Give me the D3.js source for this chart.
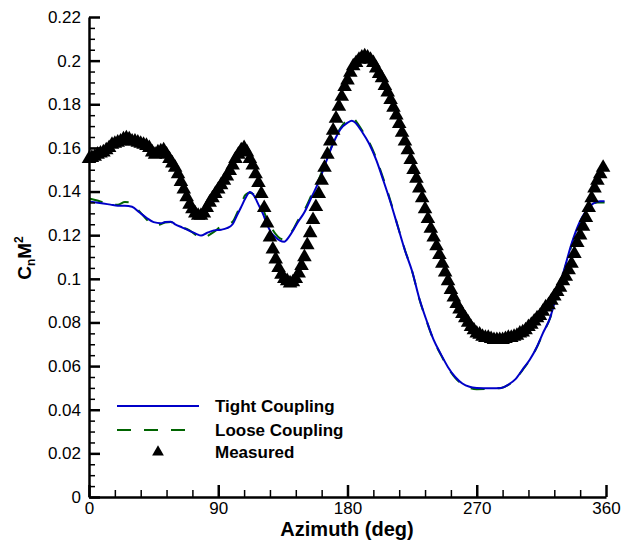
<!DOCTYPE html>
<html><head><meta charset="utf-8">
<script src="https://cdn.jsdelivr.net/npm/d3@7"></script>
<style>
body{margin:0;background:#fff}
text{font-family:"Liberation Sans",Arial,Helvetica,sans-serif;fill:#000}
</style>
</head><body>
<svg id="chart" width="624" height="546"></svg>
<script>
// ---------- data ----------
const tightAz  = [0,5,10,15,20,25,30,35,40,45,50,53,57,60,65,70,75,78,82,87,92,96,100,103,106,109,112,115,118,121,124,127,130,133,136,139,142,145,150,155,160,165,170,175,180,183,186,190,195,200,205,210,215,220,225,230,235,240,245,250,255,260,265,270,280,287,292,297,302,307,312,316,321,326,331,336,341,346,351,356,359];
const tightVal = [0.1355,0.1350,0.1345,0.1340,0.1335,0.1335,0.1330,0.1305,0.1280,0.1260,0.1255,0.1260,0.1262,0.1250,0.1235,0.1220,0.1205,0.1198,0.1210,0.1222,0.1225,0.1232,0.1250,0.1290,0.1330,0.1370,0.1398,0.1380,0.1340,0.1300,0.1250,0.1210,0.1190,0.1175,0.1170,0.1190,0.1220,0.1255,0.1305,0.1375,0.1445,0.1535,0.1620,0.1685,0.1715,0.1725,0.1712,0.1675,0.1620,0.1545,0.1450,0.1350,0.1240,0.1130,0.1035,0.0910,0.0810,0.0720,0.0655,0.0595,0.0550,0.0520,0.0505,0.0500,0.0498,0.0500,0.0515,0.0540,0.0585,0.0630,0.0690,0.0750,0.0820,0.0935,0.1045,0.1160,0.1250,0.1310,0.1345,0.1355,0.1355];

const looseAz  = [0,5,10,15,20,25,29,33,37,41,45,50,53,57,60,65,70,75,78,82,87,92,96,100,103,106,109,112,115,118,121,124,127,130,133,136,139,142,145,150,155,160,165,170,175,180,183,186,190,195,200,205,210,215,220,225,230,235,240,245,250,255,260,265,270,280,287,292,297,302,307,312,316,321,326,331,336,341,346,350,354,359];
const looseVal = [0.1368,0.1360,0.1350,0.1340,0.1340,0.1352,0.1350,0.1325,0.1295,0.1266,0.1246,0.1250,0.1258,0.1260,0.1248,0.1236,0.1222,0.1198,0.1186,0.1195,0.1215,0.1240,0.1250,0.1262,0.1300,0.1345,0.1385,0.1395,0.1385,0.1358,0.1322,0.1272,0.1235,0.1205,0.1185,0.1180,0.1200,0.1225,0.1262,0.1315,0.1385,0.1455,0.1540,0.1625,0.1690,0.1728,0.1740,0.1722,0.1682,0.1628,0.1552,0.1458,0.1355,0.1242,0.1132,0.1035,0.0908,0.0808,0.0718,0.0652,0.0592,0.0546,0.0516,0.0500,0.0494,0.0496,0.0500,0.0514,0.0540,0.0583,0.0628,0.0688,0.0748,0.0818,0.0930,0.1040,0.1152,0.1245,0.1305,0.1340,0.1350,0.1350];

const measuredAz  = [0,2,4,6,8,10,12,14,16,18,20,22,24,26,28,30,32,34,36,38,40,42,44,46,48,50,52,54,56,58,60,62,64,66,68,70,72,74,76,78,80,82,84,86,88,90,92,94,96,98,100,102,104,106,108,110,112,114,116,118,120,122,124,126,128,130,132,134,136,138,140,142,144,146,148,150,152,154,156,158,160,162,164,166,168,170,172,174,176,178,180,182,184,186,188,190,192,194,196,198,200,202,204,206,208,210,212,214,216,218,220,222,224,226,228,230,232,234,236,238,240,242,244,246,248,250,252,254,256,258,260,262,264,266,268,270,272,274,276,278,280,282,284,286,288,290,292,294,296,298,300,302,304,306,308,310,312,314,316,318,320,322,324,326,328,330,332,334,336,338,340,342,344,346,348,350,352,354,356,358];
const measuredVal = [0.155,0.1555,0.156,0.157,0.1575,0.158,0.159,0.160,0.1615,0.162,0.1625,0.163,0.164,0.1645,0.164,0.163,0.163,0.1625,0.162,0.1615,0.161,0.160,0.158,0.157,0.158,0.1585,0.159,0.157,0.155,0.153,0.151,0.148,0.1445,0.141,0.1375,0.134,0.132,0.130,0.129,0.129,0.130,0.1325,0.135,0.137,0.139,0.141,0.143,0.145,0.147,0.1495,0.152,0.155,0.157,0.159,0.160,0.158,0.155,0.152,0.148,0.144,0.139,0.1325,0.1255,0.119,0.1135,0.109,0.105,0.102,0.100,0.099,0.098,0.0985,0.100,0.1025,0.106,0.110,0.1155,0.121,0.127,0.133,0.139,0.145,0.151,0.157,0.163,0.168,0.1735,0.179,0.1835,0.188,0.191,0.1945,0.1975,0.199,0.2005,0.2015,0.202,0.2015,0.2005,0.199,0.1965,0.194,0.192,0.1885,0.1855,0.182,0.1785,0.175,0.171,0.167,0.163,0.159,0.1545,0.150,0.146,0.1415,0.137,0.132,0.1275,0.123,0.119,0.115,0.111,0.107,0.103,0.099,0.095,0.0915,0.0885,0.086,0.084,0.082,0.080,0.078,0.0765,0.075,0.0745,0.0735,0.073,0.073,0.0725,0.072,0.072,0.072,0.072,0.0725,0.073,0.073,0.0735,0.074,0.075,0.0755,0.0765,0.078,0.079,0.0805,0.082,0.083,0.085,0.087,0.088,0.090,0.092,0.094,0.096,0.099,0.101,0.104,0.107,0.1115,0.1165,0.120,0.124,0.128,0.1325,0.137,0.1415,0.145,0.148,0.151];

const xTicks = [0,90,180,270,360];
const xMinorTicks = [18,36,54,72,108,126,144,162,198,216,234,252,288,306,324,342];
const yTicks = [0,0.02,0.04,0.06,0.08,0.1,0.12,0.14,0.16,0.18,0.2,0.22];
const yTickLabels = ["0","0.02","0.04","0.06","0.08","0.1","0.12","0.14","0.16","0.18","0.2","0.22"];
const yMinorTicks = [0.005,0.01,0.015,0.025,0.03,0.035,0.045,0.05,0.055,0.065,0.07,0.075,0.085,0.09,0.095,0.105,0.11,0.115,0.125,0.13,0.135,0.145,0.15,0.155,0.165,0.17,0.175,0.185,0.19,0.195,0.205,0.21,0.215];
const seriesNames = ["Tight Coupling","Loose Coupling","Measured"];
const xTitle = "Azimuth (deg)";

// ---------- layout ----------
const svg = d3.select("#chart");
const x = d3.scaleLinear().domain([0,360]).range([89,606]);
const y = d3.scaleLinear().domain([0,0.22]).range([497,17]);
const blue = "#0000c8", green = "#006400";

const line = d3.line().x(d => x(d[0])).y(d => y(d[1])).curve(d3.curveMonotoneX);
const tight = tightAz.map((a,i) => [a, tightVal[i]]);
const loose = looseAz.map((a,i) => [a, looseVal[i]]);
const meas = measuredAz.map((a,i) => [a, measuredVal[i]]);

svg.append("path").datum(loose).attr("d", line)
  .attr("fill","none").attr("stroke",green).attr("stroke-width",2).attr("stroke-dasharray","14,13");
svg.append("path").datum(tight).attr("d", line)
  .attr("fill","none").attr("stroke",blue).attr("stroke-width",2);

const tri = d3.symbol().type(d3.symbolTriangle).size(92);
svg.append("g").selectAll("path").data(meas).join("path")
  .attr("transform", d => `translate(${x(d[0])},${y(d[1])})`)
  .attr("d", tri).attr("fill","#000");

// ---------- axes ----------
const fs = 17;
const gxMinor = svg.append("g").attr("transform","translate(0,497)")
  .call(d3.axisBottom(x).tickValues(xMinorTicks).tickSize(-7).tickFormat(""));
gxMinor.select(".domain").remove();
gxMinor.selectAll("line").attr("stroke","#000").attr("stroke-width",1.5);

const gx = svg.append("g").attr("transform","translate(0,497)")
  .call(d3.axisBottom(x).tickValues(xTicks).tickSize(-12).tickSizeOuter(0).tickPadding(5).tickFormat(d3.format("d")));
gx.select(".domain").attr("stroke","#000").attr("stroke-width",2.5);
gx.selectAll("line").attr("stroke","#000").attr("stroke-width",2.5);
gx.selectAll("text").attr("font-size",fs).attr("font-family",'"Liberation Sans",Arial,sans-serif').attr("fill","#000");

const gyMinor = svg.append("g").attr("transform","translate(89,0)")
  .call(d3.axisLeft(y).tickValues(yMinorTicks).tickSize(-6).tickFormat(""));
gyMinor.select(".domain").remove();
gyMinor.selectAll("line").attr("stroke","#000").attr("stroke-width",1.5);

const gy = svg.append("g").attr("transform","translate(89,0)")
  .call(d3.axisLeft(y).tickValues(yTicks).tickSize(-11).tickSizeOuter(0).tickPadding(8)
    .tickFormat((d,i) => yTickLabels[i]));
gy.select(".domain").attr("stroke","#000").attr("stroke-width",2.5);
gy.selectAll("line").attr("stroke","#000").attr("stroke-width",2.5);
gy.selectAll("text").attr("font-size",fs).attr("font-family",'"Liberation Sans",Arial,sans-serif').attr("fill","#000");

// titles
svg.append("text").attr("x",347).attr("y",536).attr("text-anchor","middle")
  .attr("font-size",20).attr("font-weight","bold").text(xTitle);

const yt = svg.append("text").attr("transform","translate(31,258) rotate(-90)")
  .attr("text-anchor","middle").attr("font-weight","bold").attr("font-size",19);
yt.append("tspan").text("C");
yt.append("tspan").attr("font-size",12).attr("dy",4).text("n");
yt.append("tspan").attr("dy",-4).text("M");
yt.append("tspan").attr("font-size",12).attr("dy",-8).text("2");

// ---------- legend ----------
const leg = svg.append("g");
leg.append("line").attr("x1",117).attr("x2",199).attr("y1",406).attr("y2",406)
  .attr("stroke",blue).attr("stroke-width",2);
leg.append("line").attr("x1",117).attr("x2",187).attr("y1",430).attr("y2",430)
  .attr("stroke",green).attr("stroke-width",2).attr("stroke-dasharray","14,13");
leg.append("path").attr("transform","translate(158,452)").attr("d",d3.symbol().type(d3.symbolTriangle).size(60)()).attr("fill","#000");
[412,436,458].forEach((yy,i) => {
  leg.append("text").attr("x",215).attr("y",yy).attr("font-size",17).attr("font-weight","bold").text(seriesNames[i]);
});
</script>
</body></html>
